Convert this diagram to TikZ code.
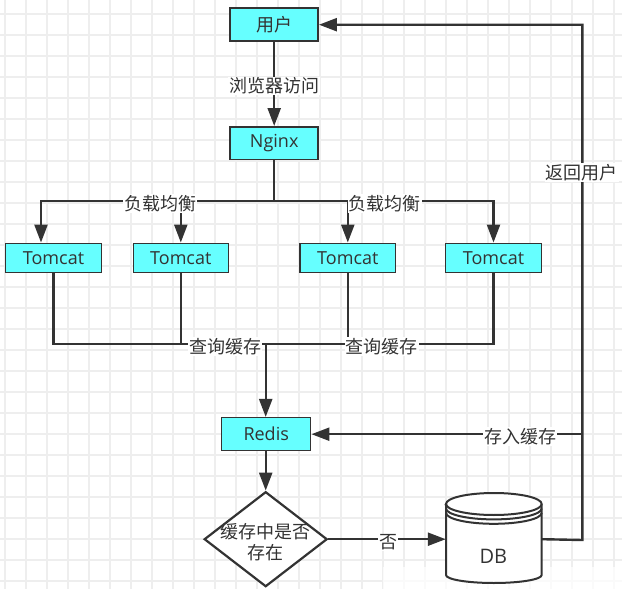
\documentclass[tikz,border=0pt]{standalone}
\usepackage{fontspec}
\setmainfont{Open Sans}
\newfontfamily\cjk{Noto Sans CJK SC}
\usetikzlibrary{arrows.meta,shapes.geometric}
\definecolor{ln}{HTML}{333333}
\definecolor{cy}{HTML}{66FFFF}
\definecolor{gridc}{HTML}{EEEEEE}
\tikzset{
  conn/.style={draw=ln, line width=2.4pt},
  arr/.style={conn, -{Triangle[length=18pt,width=13pt]}},
  box/.style={draw=ln, fill=cy, line width=1.5pt, inner sep=0pt, text=ln, font=\fontsize{18}{21}\selectfont},
  lbl/.style={fill=white, inner sep=1pt, text=ln, font=\cjk\fontsize{18}{21}\selectfont},
  dia/.style={draw=ln, fill=white, line width=2.2pt, shape=diamond, minimum width=123pt, minimum height=95pt, inner sep=0pt},
}
\begin{document}
\begin{tikzpicture}[x=1pt,y=-1pt]
\useasboundingbox (0,0) rectangle (622,589);
\fill[white] (0,0) rectangle (622,589);
\foreach \gx in {5,26,...,620} \draw[gridc, line width=1.2pt] (\gx,0) -- (\gx,589);
\foreach \gy in {14,35,...,589} \draw[gridc, line width=1.2pt] (0,\gy) -- (622,\gy);
\fill[white, opacity=0.75] (383,567) rectangle (622,589);

% nodes
\node[box, minimum width=88pt, minimum height=33pt] (u) at (274.2,24.7) {\cjk 用户};
\node[box, minimum width=88pt, minimum height=32.5pt] (n) at (274.2,143) {Nginx};
\node[box, minimum width=95.6pt, minimum height=29pt] (t1) at (53.5,257.8) {Tomcat};
\node[box, minimum width=95pt, minimum height=29pt] (t2) at (180.8,257.8) {Tomcat};
\node[box, minimum width=95.6pt, minimum height=29pt] (t3) at (347.8,257.8) {Tomcat};
\node[box, minimum width=95.6pt, minimum height=29pt] (t4) at (493.5,257.8) {Tomcat};
\node[box, minimum width=89pt, minimum height=33pt] (r) at (266.2,434.2) {Redis};
\node[dia] (d) at (265.7,539.2) {};
\node[align=center, text=ln, font=\cjk\fontsize{18}{21}\selectfont] (dt) at (265,542) {缓存中是否\\存在};

% database cylinder
\node[minimum width=95.7pt, minimum height=89pt, inner sep=0pt] (db) at (493.8,537) {};
\draw[draw=ln, line width=2pt, fill=white] (446,504) -- (446,575)
  arc[start angle=180, end angle=0, x radius=47.85, y radius=8] -- (541.7,504)
  arc[start angle=0, end angle=-180, x radius=47.85, y radius=11] -- cycle;
\draw[draw=ln, line width=2pt] (446,504) arc[start angle=180, end angle=0, x radius=47.85, y radius=11];
\draw[draw=ln, line width=2pt] (446,508.4) arc[start angle=180, end angle=0, x radius=47.85, y radius=11];
\draw[draw=ln, line width=2pt] (446,512.8) arc[start angle=180, end angle=0, x radius=47.85, y radius=11];
\node[text=ln, font=\fontsize{20}{24}\selectfont] (dbt) at (493.3,556.7) {DB};

% connectors
\draw[arr] (u) -- (n);
\node[lbl] (l0) at (274.2,86) {浏览器访问};

\coordinate (j) at (n.south |- 0,200.7);
\draw[conn] (n.south) -- (j);
\draw[arr] (j) -| ([xshift=-12.5pt]t1.north);
\draw[arr] (j) -| (t2.north);
\draw[arr] (j) -| (t3.north);
\draw[arr] (j) -| (t4.north);
\node[lbl] (l1) at (160,203.5) {负载均衡};
\node[lbl] (l2) at (384.7,203.5) {负载均衡};

\coordinate (k) at (265.7,344);
\draw[conn] (t1.south) |- (k);
\draw[conn] (t2.south) |- (k);
\draw[conn] (t3.south) |- (k);
\draw[conn] (t4.south) |- (k);
\draw[arr] (k) -- (k |- r.north);
\node[lbl] (l3) at (225,346.5) {查询缓存};
\node[lbl] (l4) at (381.7,346.5) {查询缓存};

\draw[arr] (r.south -| k) -- (d.north);
\draw[arr] (d.east) -- (d.east -| db.west);
\node[lbl] (l5) at (388.3,542.5) {否};

\coordinate (c1) at (582.3,540);
\draw[arr] (d.east -| db.east) -- (c1) |- (u.east);
\draw[arr] (r.east -| c1) -- (r.east);
\node[lbl] (l6) at (581.7,172.7) {返回用户};
\node[lbl] (l7) at (520,436.5) {存入缓存};
\end{tikzpicture}
\end{document}
